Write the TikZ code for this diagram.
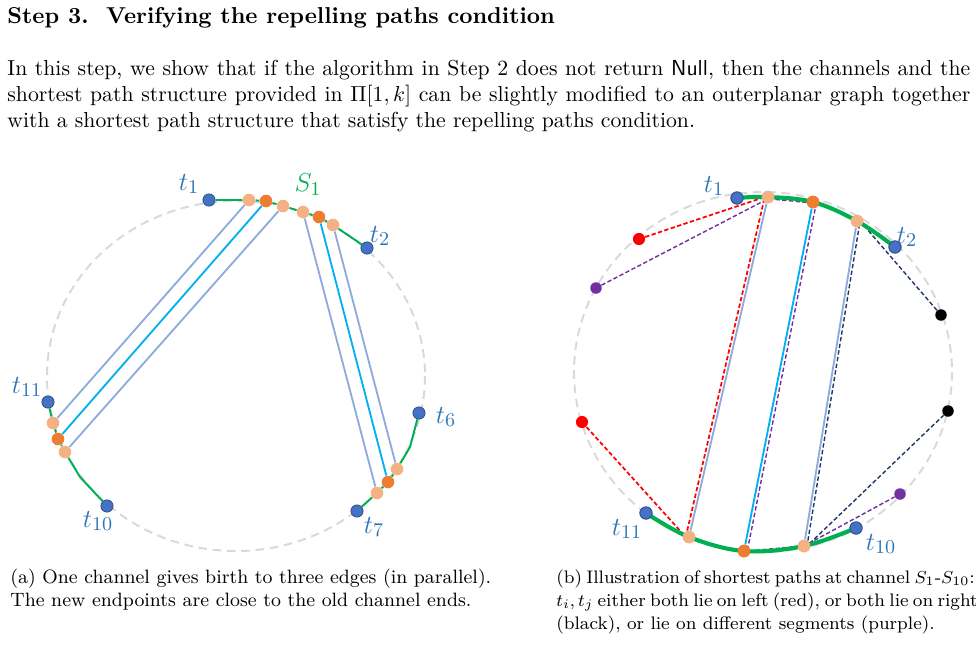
\documentclass[tikz,border=0pt]{standalone}
\usepackage{amsmath,amssymb}
\usepackage{tikz}
\usepackage{xcolor}
\usetikzlibrary{positioning}
\definecolor{ringgray}{RGB}{217,217,217}
\definecolor{pathgreen}{RGB}{0,176,80}
\definecolor{chanblue}{RGB}{143,170,220}
\definecolor{chancyan}{RGB}{0,176,240}
\definecolor{termblue}{RGB}{68,114,196}
\definecolor{termedge}{RGB}{47,82,143}
\definecolor{labblue}{RGB}{46,117,182}
\definecolor{endorange}{RGB}{237,125,49}
\definecolor{endlight}{RGB}{244,177,131}
\definecolor{leftred}{RGB}{255,0,0}
\definecolor{mixpurple}{RGB}{112,48,160}
\definecolor{rightnavy}{RGB}{32,56,100}
\newcommand{\capline}[2]{\makebox[#1][s]{#2}}

\tikzset{
  ring/.style={ringgray, line width=0.9pt, dash pattern=on 4pt off 2.6pt},
  term/.style={circle, fill=termblue, draw=termedge, line width=0.4pt, inner sep=0pt, minimum size=5.6pt},
  oldend/.style={circle, fill=endorange, inner sep=0pt, minimum size=5.8pt},
  newend/.style={circle, fill=endlight, inner sep=0pt, minimum size=5.8pt},
  pathdot/.style={circle, inner sep=0pt, minimum size=5.3pt},
  tlab/.style={text=labblue, font=\fontsize{13}{15}\selectfont, inner sep=0pt},
  chan/.style={chanblue, line width=0.85pt},
  chanmid/.style={chancyan, line width=0.85pt},
  spath/.style={pathgreen, line width=0.9pt},
  spathbold/.style={pathgreen, line width=1.9pt},
  sp/.style={dash pattern=on 2pt off 1.1pt, line width=0.65pt},
  captext/.style={inner sep=0pt, font=\fontsize{8.9}{10.6}\selectfont, align=left}
}

\begin{document}
\begin{tikzpicture}[x=0.4608pt, y=-0.4608pt]
\useasboundingbox (0,0) rectangle (976,666);

% text above the figure
\node[anchor=base west, inner sep=0pt, font=\fontsize{10.6}{13}\selectfont\bfseries] (title) at (7,23)
  {Step 3.\ \ Verifying the repelling paths condition};
\node[anchor=north west, inner sep=0pt, text width=443.7pt, align=justify] (intro) at (7,60)
  {In this step, we show that if the algorithm in Step 2 does not return \textsf{Null}, then the channels and the
   shortest path structure provided in $\Pi[1,k]$ can be slightly modified to an outerplanar graph together
   with a shortest path structure that satisfy the repelling paths condition.};

% ---------- (a) ----------
\draw[ring] (236,376) ellipse [x radius=189, y radius=175];
\node[term] (a1) at (209,200) {};
\node[newend] (au1) at (249,200) {};
\node[oldend] (au2) at (266,201) {};
\node[newend] (au3) at (283,206) {};
\node[newend] (av1) at (303,212) {};
\node[oldend] (av2) at (319,217) {};
\node[newend] (av3) at (333,225) {};
\node[term] (a2) at (367,248) {};
\node[term] (a11) at (48,402) {};
\node[newend] (aw1) at (53,423) {};
\node[oldend] (aw2) at (58,439) {};
\node[newend] (aw3) at (65,452) {};
\coordinate (abend1) at (80,477);
\node[term] (a10) at (107,506) {};
\node[term] (a6) at (419,413) {};
\coordinate (abend2) at (410,447);
\node[newend] (ax1) at (397,469) {};
\node[oldend] (ax2) at (388,482) {};
\node[newend] (ax3) at (377,493) {};
\node[term] (a7) at (357,511) {};
% three parallel edges per channel
\draw[chan] (au1) -- (aw1);
\draw[chanmid] (au2) -- (aw2);
\draw[chan] (au3) -- (aw3);
\draw[chan] (av1) -- (ax3);
\draw[chanmid] (av2) -- (ax2);
\draw[chan] (av3) -- (ax1);
% shortest path segments
\draw[spath] (a1) -- (au1) -- (au2) -- (au3) -- (av1) -- (av2) -- (av3) -- (a2);
\draw[spath] (a11) -- (aw1) -- (aw2) -- (aw3) -- (abend1) -- (a10);
\draw[spath] (a6) -- (abend2) -- (ax1) -- (ax2) -- (ax3) -- (a7);
\node[tlab] (la1) at (189,184) {$t_1$};
\node[tlab, text=pathgreen] (laS) at (308,185) {$S_1$};
\node[tlab] (la2) at (380,236) {$t_2$};
\node[tlab] (la11) at (27,387) {$t_{11}$};
\node[tlab] (la10) at (98,521) {$t_{10}$};
\node[tlab] (la6) at (446,417) {$t_6$};
\node[tlab] (la7) at (374,527) {$t_7$};

% ---------- (b) ----------
\draw[ring] (763,372) ellipse [x radius=189, y radius=180];
\node[term] (b1) at (737,198) {};
\node[newend] (bu1) at (768,197) {};
\node[oldend] (bu2) at (813,202) {};
\node[newend] (bu3) at (857,221) {};
\node[term] (b2) at (895,247) {};
\node[term] (b11) at (646,513) {};
\node[newend] (bw1) at (689,537) {};
\node[oldend] (bw2) at (744,551) {};
\node[newend] (bw3) at (804,546) {};
\node[term] (b10) at (856,528) {};
\node[pathdot, fill=leftred, minimum size=5.6pt] (red1) at (639,239) {};
\node[pathdot, fill=leftred, minimum size=5.6pt] (red2) at (582,422) {};
\node[pathdot, fill=mixpurple] (pur1) at (596,288) {};
\node[pathdot, fill=mixpurple] (pur2) at (900,494) {};
\node[pathdot, fill=black] (blk1) at (941,315) {};
\node[pathdot, fill=black] (blk2) at (948,411) {};
% channel edges
\draw[chan] (bu1) -- (bw1);
\draw[chanmid] (bu2) -- (bw2);
\draw[chan] (bu3) -- (bw3);
% shortest paths through the channel
\draw[sp, leftred, line width=0.8pt] (red1) -- ([xshift=-1.5pt]bu1.center) -- ([xshift=-1.5pt]bw1.center) -- (red2);
\draw[sp, mixpurple] (pur1) -- ([yshift=-0.8pt]bu1.center) -- ([xshift=1.5pt,yshift=-0.6pt]bu2.center)
  -- ([xshift=1.5pt]bw2.center) -- (bw3.center) -- (pur2);
\draw[sp, rightnavy] (blk1) -- ([xshift=1.4pt]bu3.center) -- ([xshift=1.4pt]bw3.center) -- (blk2);
% the two segments S_1 and S_10
\draw[spathbold] plot[smooth, tension=0.6] coordinates {(b1.center) (bu1.center) (bu2.center) (bu3.center) (b2.center)};
\draw[spathbold] plot[smooth, tension=0.6] coordinates {(b11.center) (bw1.center) (bw2.center) (bw3.center) (b10.center)};
\node[term] at (b1) {};
\node[newend] at (bu1) {};
\node[oldend] at (bu2) {};
\node[newend] at (bu3) {};
\node[term] at (b2) {};
\node[term] at (b11) {};
\node[newend] at (bw1) {};
\node[oldend] at (bw2) {};
\node[newend] at (bw3) {};
\node[term] at (b10) {};
\node[tlab] (lb1) at (714,186) {$t_1$};
\node[tlab] (lb2) at (907,237) {$t_2$};
\node[tlab] (lb11) at (627,529) {$t_{11}$};
\node[tlab] (lb10) at (881,544) {$t_{10}$};

% captions
\node[captext, anchor=base west] (capa) at (10,606)
  {(a) One channel gives birth to three edges (in parallel).\\
   The new endpoints are close to the old channel ends.};
\node[captext, font=\fontsize{8.35}{10.6}\selectfont, anchor=base west] (capb) at (556,629)
  {\capline{186.2pt}{(b) Illustration of shortest paths at channel $S_1$-$S_{10}$:}\\
   \capline{189.9pt}{$t_i,t_j$ either both lie on left (red), or both lie on right}\\
   (black), or lie on different segments (purple).};
\end{tikzpicture}
\end{document}
